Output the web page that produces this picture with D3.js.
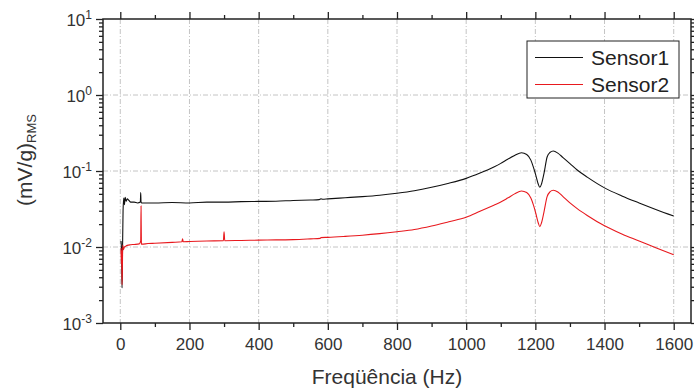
<!DOCTYPE html>
<html>
<head>
<meta charset="utf-8">
<script src="https://cdn.jsdelivr.net/npm/d3@7"></script>
<style>
  body { margin: 0; background: #fff; }
  svg { display: block; font-family: "Liberation Sans", Arial, sans-serif; }
  .grid line { stroke: #b5b5b5; stroke-width: 0.8; stroke-dasharray: 5,2,1,2; }
  .axis path, .axis line { stroke: #222; }
  .axis text { fill: #333; font-size: 17px; }
</style>
</head>
<body>
<div class="chart-container"></div>
<script>
const width = 694;
const height = 392;

// Frequencies (Hz) and amplitudes
const s1Freq = [2, 4, 5, 6, 8, 10, 12, 14, 17, 20, 25, 30, 40, 50, 58, 59, 60, 62, 80, 100,
  150, 200, 250, 300, 350, 400, 450, 500, 550, 575, 580, 585, 600, 650, 700, 750, 800, 850,
  900, 950, 1000, 1040, 1080, 1100, 1120, 1140, 1160, 1175, 1187, 1195, 1201, 1208, 1213,
  1218, 1225, 1234, 1242, 1252, 1265, 1280, 1300, 1321, 1350, 1400, 1450, 1500, 1550, 1600];
const s1Val = [0.012, 0.008, 0.0029, 0.006, 0.03, 0.044, 0.036, 0.045, 0.040, 0.043, 0.041,
  0.039, 0.039, 0.038, 0.039, 0.052, 0.039, 0.038, 0.038, 0.038, 0.0385, 0.038, 0.039,
  0.039, 0.0395, 0.0398, 0.040, 0.041, 0.0415, 0.042, 0.043, 0.0425, 0.043, 0.0445, 0.046,
  0.048, 0.051, 0.055, 0.061, 0.069, 0.080, 0.094, 0.113, 0.126, 0.143, 0.160, 0.174, 0.165,
  0.139, 0.110, 0.089, 0.068, 0.061, 0.068, 0.093, 0.153, 0.175, 0.183, 0.172, 0.150, 0.125,
  0.103, 0.083, 0.060, 0.047, 0.038, 0.031, 0.0256];

const s2Freq = [2, 3, 4, 5, 6, 7, 9, 12, 15, 20, 30, 40, 55, 59, 60, 61, 62, 80, 100, 150,
  178, 180, 182, 200, 250, 298, 300, 302, 350, 400, 450, 500, 550, 578, 580, 600, 650, 700,
  750, 800, 850, 900, 950, 1000, 1040, 1080, 1100, 1120, 1140, 1160, 1175, 1187, 1195, 1201,
  1208, 1213, 1218, 1225, 1234, 1242, 1252, 1265, 1280, 1300, 1321, 1350, 1400, 1450, 1500,
  1550, 1600];
const s2Val = [0.0097, 0.006, 0.009, 0.0032, 0.005, 0.0106, 0.0092, 0.0100, 0.0102, 0.0105,
  0.0107, 0.0108, 0.0110, 0.012, 0.0346, 0.011, 0.0109, 0.0111, 0.0112, 0.0115, 0.0117,
  0.0128, 0.0117, 0.0118, 0.0120, 0.0121, 0.0159, 0.0121, 0.0122, 0.0123, 0.0124, 0.0125,
  0.0128, 0.013, 0.0133, 0.0134, 0.0138, 0.0143, 0.0150, 0.0159, 0.0170, 0.0189, 0.0215,
  0.0246, 0.0295, 0.0355, 0.039, 0.044, 0.050, 0.0546, 0.052, 0.044, 0.035, 0.028, 0.021,
  0.0185, 0.021, 0.029, 0.046, 0.053, 0.0557, 0.053, 0.046, 0.038, 0.032, 0.026, 0.019,
  0.0148, 0.0120, 0.0097, 0.0079];

const seriesNames = ['Sensor1', 'Sensor2'];
const seriesColors = ['#111', '#e8191e'];
const xMajor = [0, 200, 400, 600, 800, 1000, 1200, 1400, 1600];
const xMinor = [100, 300, 500, 700, 900, 1100, 1300, 1500];
const yDecades = [-3, -2, -1, 0, 1];

const plot = {left: 103, right: 691, top: 19, bottom: 323};

const svg = d3.select('.chart-container')
  .append('svg')
  .attr('width', width)
  .attr('height', height);

const x = d3.scaleLinear().domain([-50, 1650]).range([plot.left, plot.right]);
const y = d3.scaleLog().domain([1e-3, 1e1]).range([plot.bottom, plot.top]);

const yMajor = yDecades.map(e => Math.pow(10, e));
const yMinor = [];
yDecades.slice(0, -1).forEach(e => {
  for (let k = 2; k <= 9; k++) yMinor.push(k * Math.pow(10, e));
});

// dash-dot grid at the major ticks
const grid = svg.append('g').attr('class', 'grid');
grid.selectAll('.gx')
  .data(xMajor)
  .enter()
  .append('line')
  .attr('x1', d => x(d)).attr('x2', d => x(d))
  .attr('y1', plot.top).attr('y2', plot.bottom);
grid.selectAll('.gy')
  .data(yMajor.slice(1, -1))
  .enter()
  .append('line')
  .attr('x1', plot.left).attr('x2', plot.right)
  .attr('y1', d => y(d)).attr('y2', d => y(d));

// the two traces
const line = d3.line()
  .x(d => x(d[0]))
  .y(d => y(d[1]))
  .curve(d3.curveMonotoneX);

const series = [d3.zip(s1Freq, s1Val), d3.zip(s2Freq, s2Val)];
svg.append('g')
  .selectAll('path')
  .data(series)
  .enter()
  .append('path')
  .attr('fill', 'none')
  .attr('stroke', (d, i) => seriesColors[i])
  .attr('stroke-width', 1.1)
  .attr('d', line);

// frame
svg.append('rect')
  .attr('x', plot.left).attr('y', plot.top)
  .attr('width', plot.right - plot.left)
  .attr('height', plot.bottom - plot.top)
  .attr('fill', 'none')
  .attr('stroke', '#222')
  .attr('stroke-width', 1.5);

// axes: major and minor ticks on every side, pointing outward
function addAxis(axisFn, translate, ticks, size, labels) {
  const g = svg.append('g')
    .attr('class', 'axis')
    .attr('transform', translate)
    .call(axisFn.tickValues(ticks).tickSize(size).tickSizeOuter(0)
      .tickFormat(labels ? d3.format('d') : ''));
  g.select('.domain').remove();
  g.selectAll('line').attr('stroke-width', 1.3);
  return g;
}

const bottomAxis = addAxis(d3.axisBottom(x), `translate(0,${plot.bottom})`, xMajor, 7, true);
bottomAxis.selectAll('text').attr('dy', '0').attr('y', 27);
addAxis(d3.axisBottom(x), `translate(0,${plot.bottom})`, xMinor, 4, false);
addAxis(d3.axisTop(x), `translate(0,${plot.top})`, xMajor, 7, false);
addAxis(d3.axisTop(x), `translate(0,${plot.top})`, xMinor, 4, false);

const leftAxis = addAxis(d3.axisLeft(y), `translate(${plot.left},0)`, yMajor, 7, true);
addAxis(d3.axisLeft(y), `translate(${plot.left},0)`, yMinor, 4, false);
addAxis(d3.axisRight(y), `translate(${plot.right},0)`, yMajor, 7, false);
addAxis(d3.axisRight(y), `translate(${plot.right},0)`, yMinor, 4, false);

// "10" with a raised exponent
leftAxis.selectAll('.tick text')
  .attr('x', -11)
  .attr('dy', '0.36em')
  .text(null)
  .each(function(d) {
    const t = d3.select(this);
    t.append('tspan').text('10');
    t.append('tspan')
      .attr('dy', '-0.55em')
      .attr('font-size', 12)
      .text(Math.round(Math.log10(d)));
  });

// axis titles
svg.append('text')
  .attr('x', (plot.left + plot.right) / 2 - 10)
  .attr('y', 384)
  .attr('text-anchor', 'middle')
  .attr('font-size', 21)
  .attr('fill', '#333')
  .text('Freqüência (Hz)');

const yTitle = svg.append('text')
  .attr('transform', 'translate(32,160) rotate(-90)')
  .attr('text-anchor', 'middle')
  .attr('font-size', 21)
  .attr('fill', '#333');
yTitle.append('tspan').text('(mV/g)');
yTitle.append('tspan')
  .attr('dy', '0.3em')
  .attr('font-size', 13)
  .text('RMS');

// legend
const legend = svg.append('g').attr('transform', 'translate(527,41)');
legend.append('rect')
  .attr('width', 152).attr('height', 57)
  .attr('fill', '#fff')
  .attr('stroke', '#222')
  .attr('stroke-width', 1);
const item = legend.selectAll('.item')
  .data(seriesNames)
  .enter()
  .append('g')
  .attr('transform', (d, i) => `translate(0,${16.5 + i * 27})`);
item.append('line')
  .attr('x1', 8).attr('x2', 56)
  .attr('stroke', (d, i) => seriesColors[i])
  .attr('stroke-width', 1.1);
item.append('text')
  .attr('x', 64)
  .attr('dy', '0.36em')
  .attr('font-size', 21)
  .attr('fill', '#222')
  .text(d => d);
</script>
</body>
</html>
